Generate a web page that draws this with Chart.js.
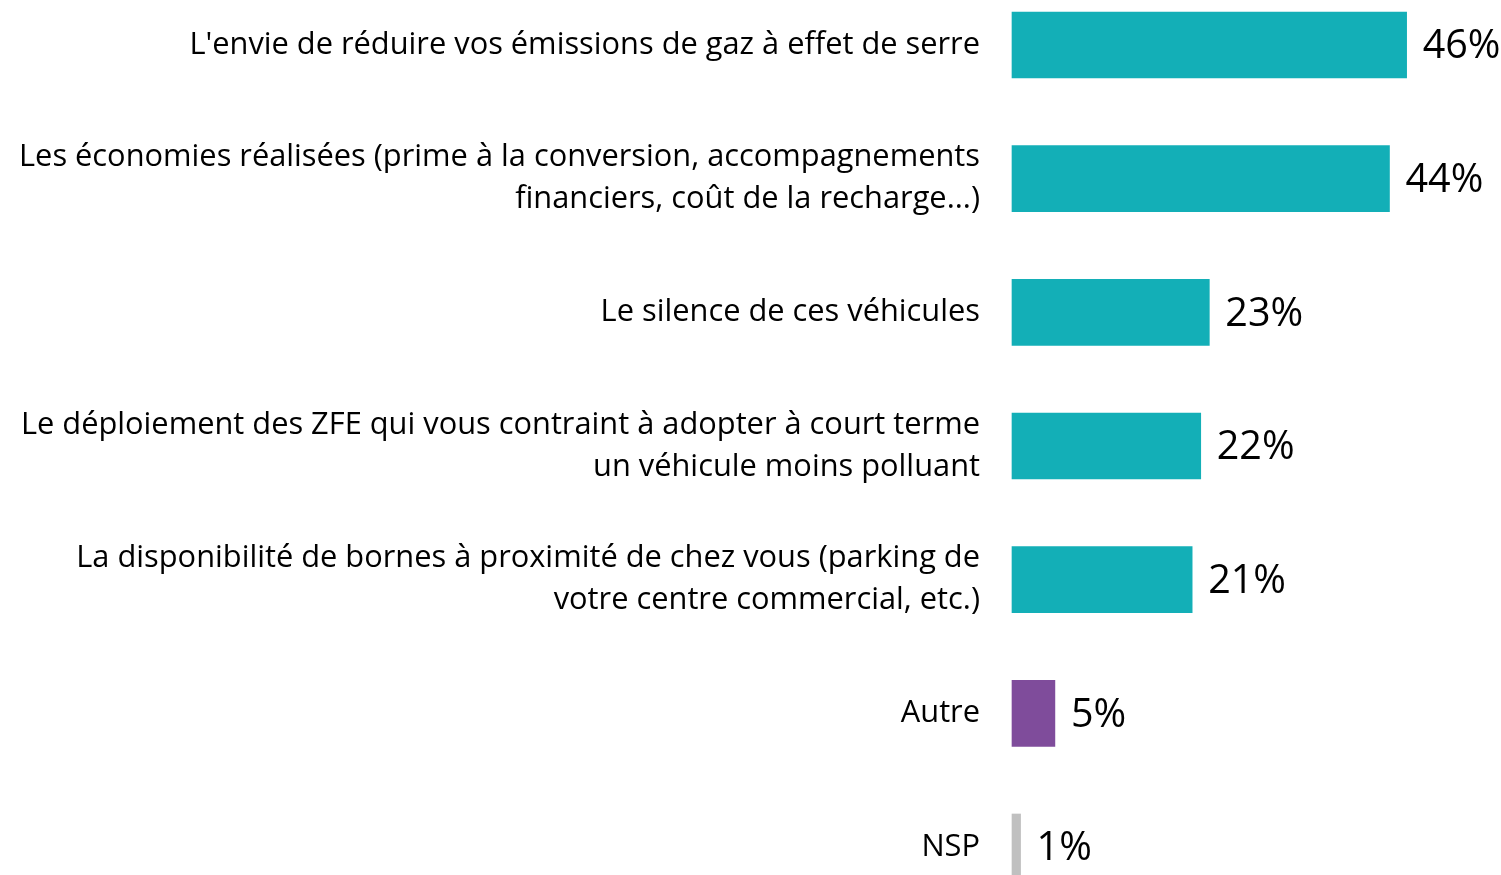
<!DOCTYPE html>
<html>
<head>
<meta charset="utf-8">
<script src="https://cdn.jsdelivr.net/npm/chart.js@4/dist/chart.umd.min.js"></script>
<style>
html,body{margin:0;padding:0;background:#fff;}
#wrap{width:1501px;height:875px;position:relative;}
</style>
</head>
<body>
<div id="wrap"><canvas id="c" width="1501" height="875"></canvas></div>
<script>
const categories = [
  ["L'envie de réduire vos émissions de gaz à effet de serre"],
  ["Les économies réalisées (prime à la conversion, accompagnements", "financiers, coût de la recharge...)"],
  ["Le silence de ces véhicules"],
  ["Le déploiement des ZFE qui vous contraint à adopter à court terme", "un véhicule moins polluant"],
  ["La disponibilité de bornes à proximité de chez vous (parking de", "votre centre commercial, etc.)"],
  ["Autre"],
  ["NSP"]
];
const values = [46, 44, 23, 22, 21, 5, 1];
const barColors = ["#13AFB7", "#13AFB7", "#13AFB7", "#13AFB7", "#13AFB7", "#7F4C9B", "#C0C0C0"];

const FONT = "'Open Sans', 'Noto Sans', sans-serif";

const valueLabels = {
  id: 'valueLabels',
  afterDatasetsDraw(chart) {
    const ctx = chart.ctx;
    const meta = chart.getDatasetMeta(0);
    ctx.save();
    ctx.font = "39.5px " + FONT;
    ctx.fillStyle = "#000";
    ctx.textAlign = "left";
    ctx.textBaseline = "middle";
    meta.data.forEach((bar, i) => {
      ctx.fillText(values[i] + "%", bar.x + 16, bar.y + 2);
    });
    ctx.restore();
  }
};

new Chart(document.getElementById('c'), {
  type: 'bar',
  data: {
    labels: categories,
    datasets: [{
      data: values,
      backgroundColor: barColors,
      borderWidth: 0,
      barThickness: 66,
      clip: false
    }]
  },
  options: {
    indexAxis: 'y',
    responsive: false,
    animation: false,
    layout: { padding: { top: 45, bottom: 28, left: 0, right: 0 } },
    plugins: { legend: { display: false }, tooltip: { enabled: false } },
    scales: {
      x: { display: false, min: 0, max: 57 },
      y: {
        offset: false,
        grid: { display: false, drawTicks: false },
        border: { display: false },
        afterFit(scale) {
          scale.width = 1012;
          scale.paddingTop = 0;
          scale.paddingBottom = 0;
        },
        ticks: {
          padding: 32,
          color: "#000",
          font: { family: FONT, size: 30.8, lineHeight: 1.36 },
          autoSkip: false
        }
      }
    }
  },
  plugins: [valueLabels]
});
</script>
</body>
</html>
